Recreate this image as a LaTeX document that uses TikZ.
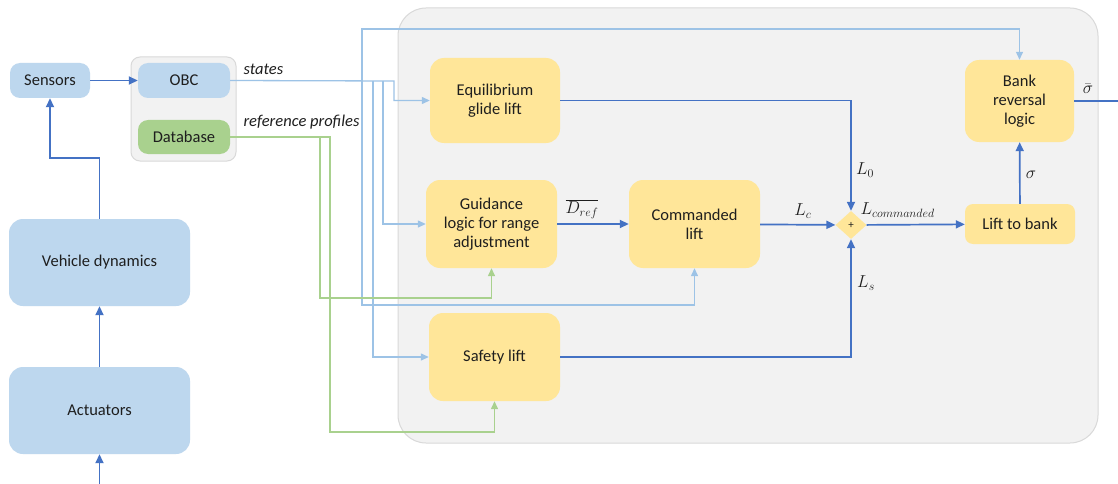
\documentclass[tikz,border=0pt]{standalone}
\usepackage{fontspec}
\setmainfont{Carlito}
\usetikzlibrary{arrows.meta,shapes.geometric}
\definecolor{boxblue}{HTML}{BDD7EE}
\definecolor{boxgreen}{HTML}{A9D18E}
\definecolor{boxyellow}{HTML}{FFE699}
\definecolor{panelgray}{HTML}{F2F2F2}
\definecolor{panelline}{HTML}{D9D9D9}
\definecolor{linelight}{HTML}{9DC3E6}
\definecolor{linegreen}{HTML}{A9D18E}
\definecolor{linedark}{HTML}{4472C4}
\definecolor{txt}{HTML}{1E1E1E}
\tikzset{
  x=1pt, y=-1pt,
  every node/.style={text=txt, font=\fontsize{16.5}{19}\selectfont},
  blk/.style={rounded corners=10pt, inner sep=2pt, align=center},
  blueblk/.style={blk, fill=boxblue},
  greenblk/.style={blk, fill=boxgreen},
  yelblk/.style={blk, fill=boxyellow},
  darr/.style={draw=linedark, line width=1.7pt, -{Triangle[length=9pt,width=8pt]}},
  darrline/.style={draw=linedark, line width=1.7pt},
  larr/.style={draw=linelight, line width=1.3pt, -{Triangle[length=8pt,width=7pt]}},
  garr/.style={draw=linegreen, line width=1.3pt, -{Triangle[length=8pt,width=7pt]}},
  lbl/.style={font=\fontsize{16.5}{19}\selectfont\itshape},
  mlbl/.style={font=\fontsize{17}{19}\selectfont},
}
\begin{document}
\begin{tikzpicture}
\useasboundingbox (0,0) rectangle (1118,484);
\fill[white] (0,0) rectangle (1118,484);

% guidance panel and OBC enclosure
\node[draw=panelline, line width=1pt, fill=panelgray, rounded corners=28pt,
      minimum width=700pt, minimum height=435pt] (panel) at (748,225.5) {};
\node[draw=panelline, line width=1pt, fill=panelgray, rounded corners=9pt,
      minimum width=105pt, minimum height=104pt] (obcgrp) at (183.5,109) {};

% left-hand blocks
\node[blueblk, minimum width=80pt, minimum height=35pt] (sens) at (50,80.5) {Sensors};
\node[blueblk, minimum width=92pt, minimum height=35pt] (obc) at (184,80.5) {OBC};
\node[greenblk, minimum width=92pt, minimum height=34pt] (db) at (184,137) {Database};
\node[blueblk, minimum width=181pt, minimum height=87pt, rounded corners=14pt] (veh) at (99.5,262.5) {Vehicle dynamics};
\node[blueblk, minimum width=181pt, minimum height=87pt, rounded corners=14pt] (act) at (99.5,410.5) {Actuators};

% guidance blocks
\node[yelblk, minimum width=130pt, minimum height=85pt, rounded corners=14pt] (eq) at (495,100.5) {Equilibrium\\glide lift};
\node[yelblk, minimum width=131pt, minimum height=88pt, rounded corners=14pt] (gd) at (491.5,224) {Guidance\\logic for range\\adjustment};
\node[yelblk, minimum width=131pt, minimum height=88pt, rounded corners=14pt] (cmd) at (694.5,224) {Commanded\\lift};
\node[yelblk, minimum width=131pt, minimum height=88pt, rounded corners=14pt] (saf) at (494.5,357) {Safety lift};
\node[diamond, fill=boxyellow, minimum width=31pt, minimum height=28pt, inner sep=0pt,
      font=\fontsize{11}{12}\selectfont] (sum) at (851,225) {+};
\node[yelblk, minimum width=110pt, minimum height=40pt, rounded corners=8pt] (ltb) at (1020,224) {Lift to bank};
\node[yelblk, minimum width=109pt, minimum height=82pt, rounded corners=14pt] (brl) at (1019.5,101) {Bank\\reversal\\logic};

% free ends
\coordinate (bin) at (99.5,484);
\coordinate (out) at (1118,101);
\coordinate (j1) at (362,81);
\coordinate (j2) at (373,81);
\coordinate (j3) at (383,81);

% plant loop
\draw[darr] (bin) -- (act);
\draw[darr] (act) -- (veh);
\draw[darr] (veh.north) -- ++(0,-61) -| (sens.south);
\draw[darr] (sens) -- (obc);

% state distribution
\draw[larr] (obc.east) -- (394,81) |- (eq.west);
\draw[larr] (j3) |- (gd.west);
\draw[larr] (j2) |- (saf.west);
\draw[larr] (j1) -- (362,29) -| (brl.north);
\draw[larr] (j1) -- (362,305) -| (cmd.south);
\node[lbl, anchor=west] (stlbl) at (240,69) {states};

% reference profiles
\draw[garr] (db.east) -- (330,137) -- (330,432) -| (saf.south);
\draw[garr] (320,137) -- (320,298) -| (gd.south);
\node[lbl, anchor=west] (rplbl) at (240,122) {reference profiles};

% lift blending
\draw[darr] (gd) -- (cmd);
\draw[darr] (eq.east) -| (sum.north);
\draw[darr] (saf.east) -| (sum.south);
\draw[darr] (cmd) -- (sum);
\draw[darr] (sum) -- (ltb);
\draw[darr] (ltb) -- (brl);
\draw[darrline] (brl.east) -- (out);

% signal labels
\node[mlbl] (ldref) at (582,209) {$\overline{D_{ref}}$};
\node[mlbl] (l0) at (865,170) {$L_0$};
\node[mlbl] (lc) at (803,211) {$L_c$};
\node[mlbl] (ls) at (866,283) {$L_s$};
\node[mlbl, anchor=west] (lcmd) at (857,210) {$L_{commanded}$};
\node[mlbl] (sg) at (1031,175) {$\sigma$};
\node[mlbl] (sgb) at (1088,89) {$\bar{\sigma}$};
\end{tikzpicture}
\end{document}
